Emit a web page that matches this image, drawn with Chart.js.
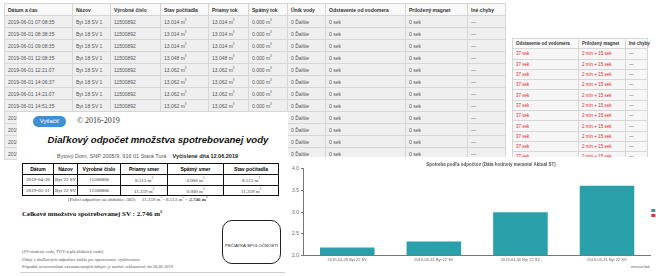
<!DOCTYPE html>
<html>
<head>
<meta charset="utf-8">
<script src="https://cdn.jsdelivr.net/npm/chart.js@4/dist/chart.umd.min.js"></script>
<style>
body{margin:0;background:#fff;}
#wrap{position:relative;width:656px;height:276px;overflow:hidden;background:#fff;font-family:"Liberation Sans",Arial,sans-serif;}
.abs{position:absolute;}
table{border-collapse:collapse;}
#log td,#log th{border:1px solid #d6d6d6;height:11px;padding:0 3px;font-size:5px;color:#555;text-align:left;white-space:nowrap;overflow:hidden;background:#efefef;}
#log th{background:#f8f8f8;color:#333;font-weight:bold;}
#red td,#red th{border:1px solid #d6d6d6;height:9.3px;padding:0 3px;font-size:4.5px;color:#e8262c;text-align:left;white-space:nowrap;background:#f6f6f6;}
#red th{color:#333;font-weight:bold;background:#fafafa;}
#red td.d{color:#555;}
#doc{left:17px;top:112px;width:271px;height:164px;background:#fff;}
#dtab td,#dtab th{border:1px solid #111;font-size:5px;text-align:center;white-space:nowrap;padding:0;}
#dtab th{height:10px;font-weight:bold;}
#dtab td{height:9.5px;font-family:"Liberation Serif",serif;color:#333;}
.serif{font-family:"Liberation Serif","Times New Roman",serif;}
</style>
</head>
<body>
<div id="wrap">
  <table id="log" class="abs" style="left:4px;top:3px;width:501px;table-layout:fixed;">
    <colgroup>
      <col style="width:68px"><col style="width:38px"><col style="width:50px"><col style="width:48px"><col style="width:40px">
      <col style="width:39px"><col style="width:38px"><col style="width:80px"><col style="width:62px"><col style="width:38px">
    </colgroup>
    <thead><tr id="logHead"></tr></thead>
    <tbody id="logBody"></tbody>
  </table>

  <table id="red" class="abs" style="left:512px;top:38px;width:135px;table-layout:fixed;">
    <colgroup><col style="width:66px"><col style="width:47px"><col style="width:22px"></colgroup>
    <thead><tr><th>Odstavenie od vodomera</th><th>Priložený magnet</th><th>Iné chyby</th></tr></thead>
    <tbody id="redBody"></tbody>
  </table>

  <div id="doc" class="abs"></div>
  <div class="abs" style="left:33px;top:116px;width:33px;height:11px;border-radius:6px;background:#3f8fd6;color:#fff;font-size:6px;line-height:11px;text-align:center;">Vytlačiť</div>
  <div class="abs serif" style="left:77px;top:116px;font-size:8px;color:#333;">© 2016-2019</div>
  <div class="abs" style="left:30px;top:134px;width:256px;text-align:center;font-size:9.6px;font-weight:bold;font-style:italic;color:#111;white-space:nowrap;">Diaľkový odpočet množstva spotrebovanej vody</div>
  <div class="abs" style="left:57px;top:153px;font-size:5.5px;color:#555;white-space:nowrap;">Bytový Dom, SNP 2005/9, 916 01 Stará Turá &nbsp;&nbsp; <b style="color:#222">Vyčíslené dňa 12.06.2019</b></div>
  <table id="dtab" class="abs" style="left:22px;top:163px;width:256px;table-layout:fixed;">
    <colgroup><col style="width:31px"><col style="width:24px"><col style="width:43px"><col style="width:47px"><col style="width:56px"><col style="width:55px"></colgroup>
    <thead><tr><th>Dátum</th><th>Názov</th><th>Výrobné číslo</th><th>Priamy smer</th><th>Spätný smer</th><th>Stav počítadla</th></tr></thead>
    <tbody id="dBody"></tbody>
  </table>
  <div class="abs serif" style="left:68px;top:195px;font-size:5px;color:#444;white-space:nowrap;">(Počet odpočtov za obdobie: 382) &nbsp;&nbsp;&nbsp; 11.259 m<sup style="font-size:3px">3</sup> - 8.513 m<sup style="font-size:3px">3</sup> = <b>2.746 m<sup style="font-size:3px">3</sup></b></div>
  <div class="abs serif" style="left:22px;top:209px;font-size:7px;font-weight:bold;color:#111;white-space:nowrap;">Celkové množstvo spotrebovanej SV : 2.746 m<sup style="font-size:4px">3</sup></div>
  <div class="abs" style="left:222px;top:220px;width:57px;height:42px;border:1px solid #222;border-radius:10px;"></div>
  <div class="abs" style="left:222px;top:243px;width:59px;text-align:center;font-size:4.3px;color:#222;white-space:nowrap;">PEČIATKA SPOLOČNOSTI</div>
  <div class="abs serif" style="left:22px;top:248px;font-size:4.5px;line-height:7.5px;color:#555;white-space:nowrap;">
    (SV-studená voda, TUV-teplá úžitková voda)<br>
    Údaje z diaľkových odpočtov slúžia pre spracovanie vyúčtovania<br>
    Prípadné nezrovnalosti zaznamenaných údajov je možné reklamovať do 20.06.2019
  </div>
  <div class="abs" style="left:20px;top:272px;width:265px;height:1px;background:#ccc;"></div>

  <div class="abs" style="left:288px;top:157px;width:368px;height:119px;background:#fff;"></div>
  <canvas id="chart" class="abs" width="404" height="119" style="left:288px;top:157px;"></canvas>
</div>

<script>
// zaznamy z vodomera (horna tabulka)
const logHeaders = ['Dátum a čas','Názov','Výrobné číslo','Stav počítadla','Priamy tok','Spätný tok','Únik vody','Odstavenie od vodomera','Priložený magnet','Iné chyby'];
const logTimes = ['2019-06-01 07:08:35','2019-06-01 08:38:35','2019-06-01 09:08:35','2019-06-01 12:08:35','2019-06-01 12:21:07','2019-06-01 14:06:37','2019-06-01 14:21:07','2019-06-01 14:51:35','2019-06-01 15:21:07','2019-06-01 15:51:35','2019-06-01 16:21:07','2019-06-01 16:51:35'];
const logStav = ['13.014','13.014','13.014','13.048','13.062','13.062','13.062','13.062','13.062','13.062','13.062','13.062'];

// druha tabulka (chyby)
const redOdst = ['37 sek','37 sek','37 sek','37 sek','37 sek','37 sek','37 sek','37 sek','37 sek','37 sek','37 sek','37 sek'];
const redMagnet = ['2 min + 15 sek','2 min + 15 sek','2 min + 15 sek','2 min + 15 sek','2 min + 15 sek','2 min + 15 sek','2 min + 15 sek','2 min + 15 sek','2 min + 15 sek','2 min + 15 sek','2 min + 15 sek','2 min + 15 sek'];

// odpocty v dokumente
const docDates = ['2019-04-30','2019-05-31'];
const docPriamy = ['8.513','11.259'];
const docSpatny = ['0.000','0.000'];

// graf
const chartTitle = 'Spotreba podľa odpočtov (Dáta hodnoty merania/ Aktuál ST)';
const months = ['2019-02-28 Byt 22 SV','2019-03-31 Byt 22 SV','2019-04-30 Byt 22 SV','2019-05-31 Byt 22 SV'];
const svValues = [2.18, 2.32, 3.0, 3.61];
const tuvValues = [0, 0, 0, 0];
const yTicks = [2, 2.5, 3, 3.5, 4];

const m3 = v => v + ' m<sup style="font-size:3px">3</sup>';

document.getElementById('logHead').innerHTML = logHeaders.map(h => '<th>' + h + '</th>').join('');
document.getElementById('logBody').innerHTML = logTimes.map((t, i) =>
  '<tr><td>' + t + '</td><td>Byt 18 SV 1</td><td>11500892</td><td>' + m3(logStav[i]) + '</td><td>' + m3(logStav[i]) +
  '</td><td>' + m3('0.000') + '</td><td>0 Ďalšie</td><td>0 sek</td><td>0 sek</td><td>—</td></tr>').join('');

document.getElementById('redBody').innerHTML = redOdst.map((o, i) =>
  '<tr><td>' + o + '</td><td>' + redMagnet[i] + '</td><td class="d">—</td></tr>').join('');

document.getElementById('dBody').innerHTML = docDates.map((d, i) =>
  '<tr><td>' + d + '</td><td>Byt 22 SV</td><td>11500806</td><td>' + m3(docPriamy[i]) + '</td><td>' + m3(docSpatny[i]) +
  '</td><td>' + m3(docPriamy[i]) + '</td></tr>').join('');

new Chart(document.getElementById('chart'), {
  type: 'bar',
  data: {
    labels: months,
    datasets: [
      {label: 'Studená voda', data: svValues, backgroundColor: '#2aa0aa'},
      {label: 'Teplá voda', data: tuvValues, backgroundColor: '#e0343c'}
    ]
  },
  options: {
    responsive: false,
    devicePixelRatio: 1,
    animation: false,
    datasets: {bar: {grouped: false, barPercentage: 0.7, categoryPercentage: 0.9}},
    layout: {padding: {left: 2, right: 0, top: 0, bottom: 7}},
    plugins: {
      title: {display: true, text: chartTitle, color: '#555', font: {size: 4.5}, padding: {top: 5, bottom: 1.5}},
      legend: {position: 'right', labels: {boxWidth: 4, boxHeight: 3, padding: 1, font: {size: 4}, color: '#666'}},
      tooltip: {enabled: false}
    },
    scales: {
      y: {
        min: 2, max: 4,
        afterBuildTicks: axis => { axis.ticks = yTicks.map(v => ({value: v})); },
        ticks: {color: '#666', font: {size: 5}, padding: 2},
        grid: {drawOnChartArea: false, tickLength: 3, color: '#777'},
        border: {color: '#777'}
      },
      x: {
        ticks: {color: '#666', font: {size: 4}, padding: 2, maxRotation: 0},
        grid: {display: false, drawTicks: false},
        border: {color: '#777'},
        title: {display: true, text: 'mesiac/rok', align: 'end', color: '#666', font: {size: 4}, padding: 0}
      }
    }
  }
});
</script>
</body>
</html>
